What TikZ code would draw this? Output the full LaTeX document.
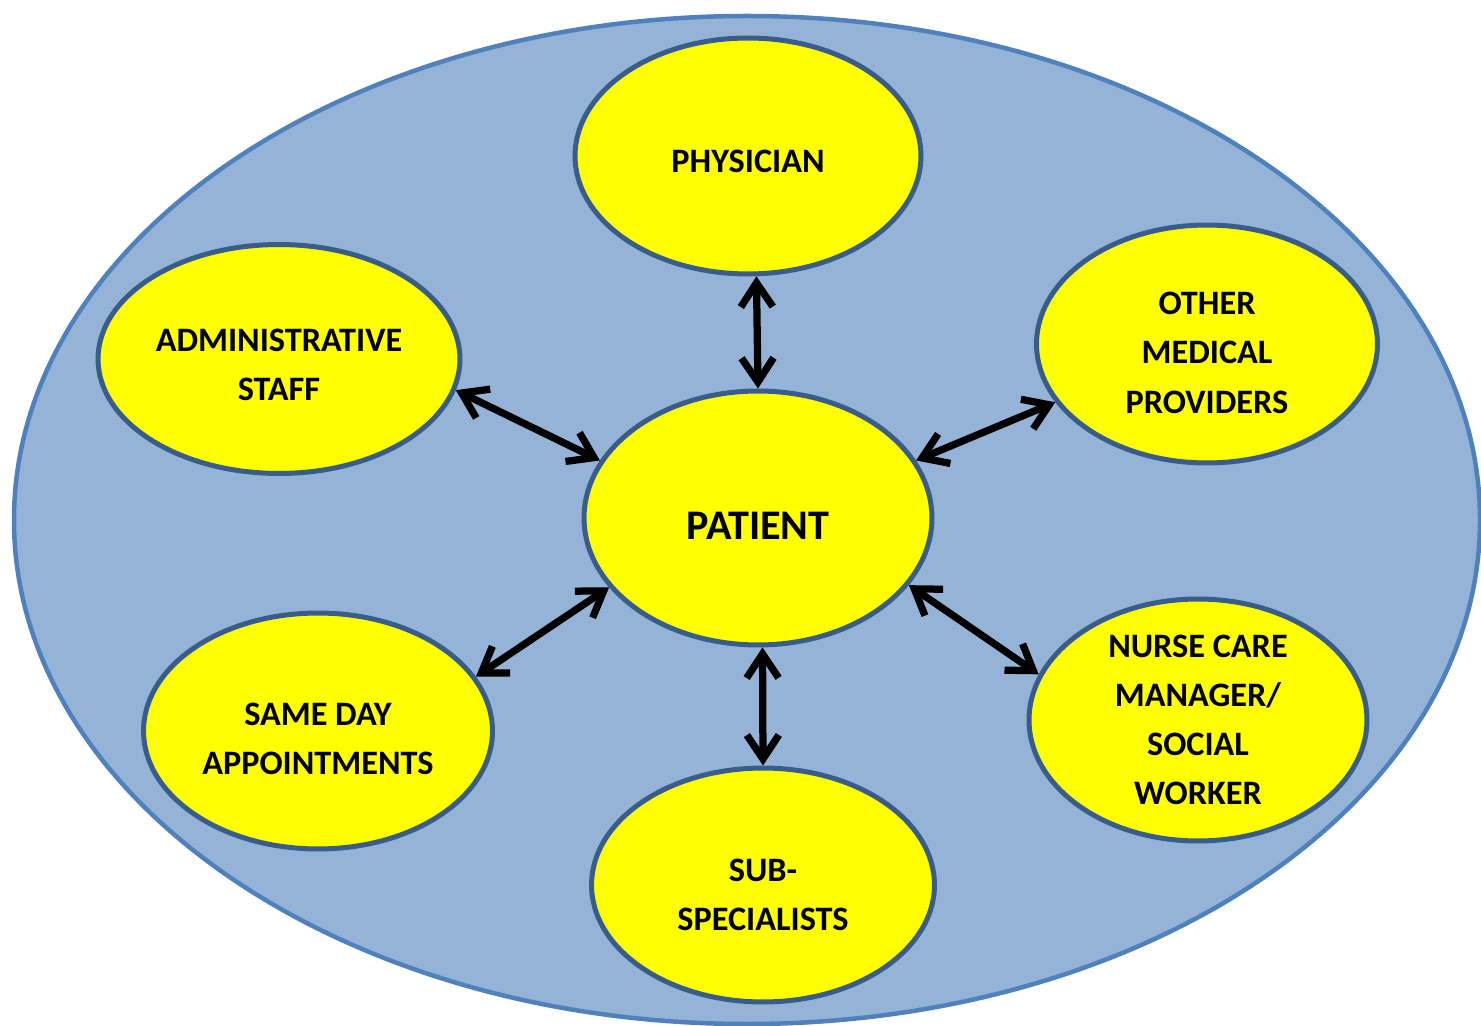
\documentclass[tikz,border=0pt]{standalone}
\usepackage{fontspec}
\setmainfont{Carlito}
\usetikzlibrary{shapes.geometric,arrows.meta}
\definecolor{teamfill}{RGB}{149,179,215}
\definecolor{teamline}{RGB}{79,129,189}
\definecolor{roleline}{RGB}{56,93,138}
\definecolor{rolefill}{RGB}{255,255,0}
\begin{document}
\begin{tikzpicture}[x=0.02cm, y=-0.02cm,
  role/.style={ellipse, draw=roleline, line width=0.1cm, fill=rolefill, inner sep=0pt,
    align=center, font=\bfseries\fontsize{19.5}{28}\selectfont},
  link/.style={line width=0.145cm, {Straight Barb[length=0.48cm,width=0.64cm]}-{Straight Barb[length=0.48cm,width=0.64cm]}}]
\clip (0,0) rectangle (1481,1026);
\useasboundingbox (0,0) rectangle (1481,1026);
\fill[white] (0,0) rectangle (1481,1026);
\draw[fill=teamfill, draw=teamline, line width=0.09cm] (747,520) ellipse [x radius=733, y radius=504];
\node[role, minimum width=6.96cm, minimum height=5.08cm, text height=24.6pt, font=\bfseries\fontsize{24}{28}\selectfont] (patient) at (758,518) {PATIENT};
\node[role, minimum width=6.92cm, minimum height=4.72cm, text height=18.8pt] (physician) at (748,156) {PHYSICIAN};
\node[role, minimum width=7.24cm, minimum height=4.58cm, text height=47.4pt] (admin) at (279,359) {ADMINISTRATIVE\\STAFF};
\node[role, minimum width=6.82cm, minimum height=4.76cm, text height=78.8pt] (other) at (1207,344) {OTHER\\MEDICAL\\PROVIDERS};
\node[role, minimum width=6.98cm, minimum height=4.72cm, text height=49.7pt] (sameday) at (318,731) {SAME DAY\\APPOINTMENTS};
\node[role, minimum width=6.76cm, minimum height=4.84cm] (nurse) at (1198,720) {NURSE CARE\\MANAGER/\\SOCIAL\\WORKER};
\node[role, minimum width=6.86cm, minimum height=4.68cm, text height=52pt] (sub) at (763,885) {SUB-\\SPECIALISTS};
\draw[link] (physician.-86) -- (patient.90);
\draw[link] (admin.-10) -- (patient.160);
\draw[link] (other.-159) -- (patient.20);
\draw[link] (sameday.19) -- (patient.-155);
\draw[link] (nurse.164) -- (patient.-24);
\draw[link] (sub.90) -- (patient.-88);
\end{tikzpicture}
\end{document}
